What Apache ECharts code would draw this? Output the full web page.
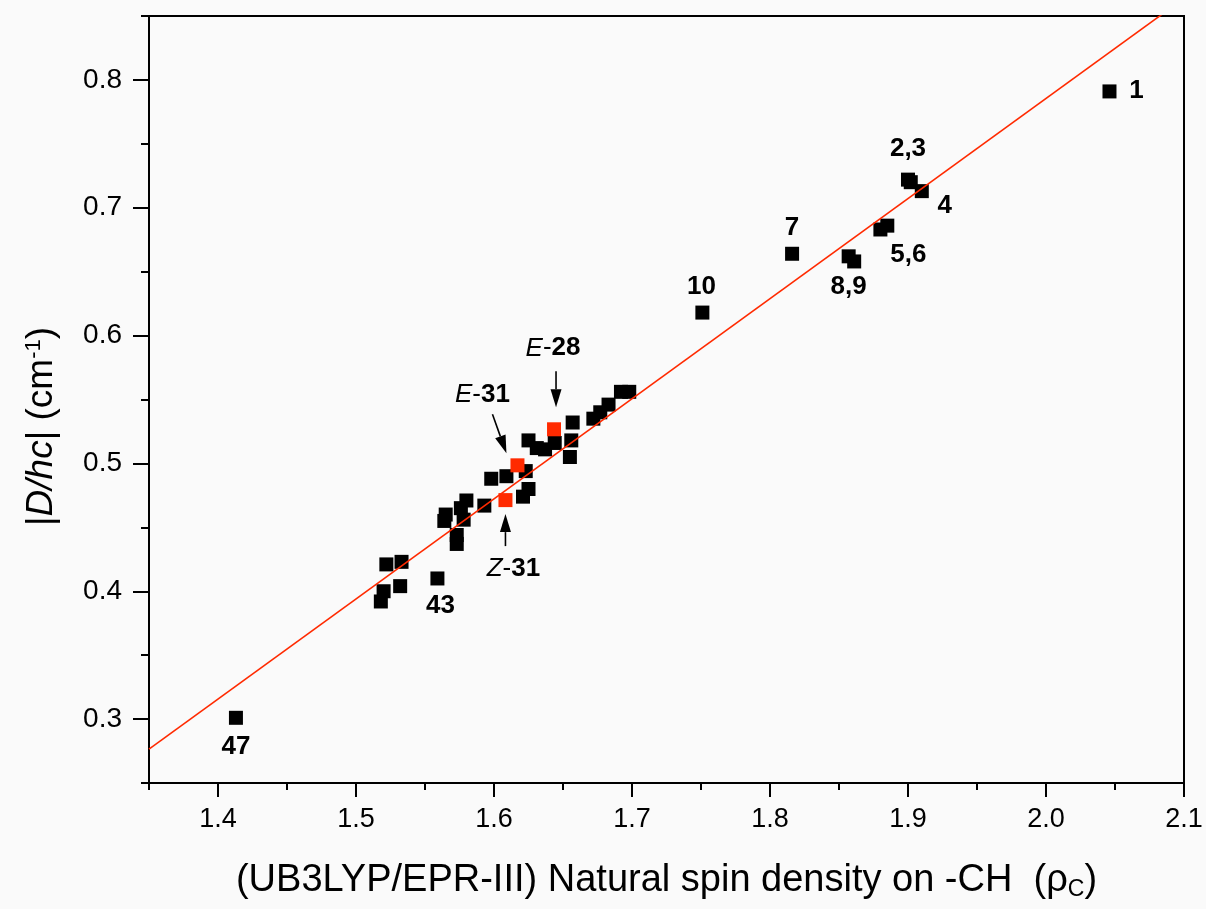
<!DOCTYPE html>
<html>
<head>
<meta charset="utf-8">
<script src="https://cdn.jsdelivr.net/npm/echarts@6/dist/echarts.min.js"></script>
<style>
html,body{margin:0;padding:0;background:#fafafa;}
#chart{width:1206px;height:909px;}
</style>
</head>
<body>
<div id="chart"></div>
<script>
// ---- data ----
const blackX = [2.046, 1.900, 1.902, 1.910, 1.880, 1.885, 1.816, 1.857, 1.861, 1.751,
  1.625, 1.631, 1.637, 1.644, 1.657, 1.656, 1.655, 1.672, 1.677, 1.683, 1.692, 1.698,
  1.609, 1.598, 1.623, 1.625, 1.621, 1.593, 1.580, 1.576, 1.578, 1.565, 1.564, 1.573, 1.573,
  1.522, 1.533, 1.532, 1.520, 1.518, 1.559, 1.413];
const blackY = [0.791, 0.722, 0.720, 0.713, 0.683, 0.686, 0.664, 0.662, 0.658, 0.618,
  0.518, 0.512, 0.511, 0.516, 0.532, 0.518, 0.505, 0.535, 0.540, 0.546, 0.556, 0.556,
  0.490, 0.488, 0.494, 0.480, 0.474, 0.467, 0.471, 0.465, 0.456, 0.460, 0.455, 0.444, 0.437,
  0.421, 0.423, 0.404, 0.400, 0.392, 0.410, 0.301];
const blackLabels = {0: '1', 1: '2,3', 3: '4', 4: '5,6', 6: '7', 7: '8,9', 9: '10', 40: '43', 41: '47'};

const redX = [1.6435, 1.617, 1.6083];
const redY = [0.5267, 0.4985, 0.4713];
const redIsomer = ['E', 'E', 'Z'];
const redNumber = ['28', '31', '31'];

const fitSlope = 0.783;
const fitIntercept = -0.7805;

const xMajorTicks = [1.4, 1.5, 1.6, 1.7, 1.8, 1.9, 2.0, 2.1];
const yMajorTicks = [0.3, 0.4, 0.5, 0.6, 0.7, 0.8];
const xRange = [1.35, 2.1];
const yRange = [0.25, 0.85];

// ---- styles ----
const FONT = 'Liberation Sans, Arial, sans-serif';
const labelOffsets = {0: [27, -1], 1: [0, -31], 3: [23, 15], 4: [28, 25], 6: [0, -26], 7: [0, 31], 9: [-1, -26], 40: [3, 27], 41: [0, 29]};
const redLabelOffsets = [[-1, -81], [-35, -71], [8, 69]];
const arrowDefs = [ // [start offset, tip offset] relative to the red point (pixels)
  [[2, -58], [2, -22]],
  [[-25, -51], [-11, -12]],
  [[0, 46], [0, 14]]
];

const labelText = {fontFamily: FONT, fontSize: 26, fontWeight: 'bold', color: '#000'};

const blackData = blackX.map((x, i) => {
  const item = {value: [x, blackY[i]]};
  if (blackLabels[i] !== undefined) {
    item.label = Object.assign({show: true, position: 'inside', formatter: blackLabels[i], offset: labelOffsets[i], align: 'center', verticalAlign: 'middle'}, labelText);
  }
  return item;
});
const richStyles = {
  i: {fontFamily: FONT, fontSize: 26, fontStyle: 'italic', color: '#000'},
  n: {fontFamily: FONT, fontSize: 26, color: '#000'},
  b: {fontFamily: FONT, fontSize: 26, fontWeight: 'bold', color: '#000'}
};
const redData = redX.map((x, i) => ({
  value: [x, redY[i]],
  label: {show: true, position: 'inside', offset: redLabelOffsets[i], align: 'center', verticalAlign: 'middle',
    formatter: '{i|' + redIsomer[i] + '}{n|-}{b|' + redNumber[i] + '}', rich: richStyles}
}));

const fitData = [[xRange[0], fitSlope * xRange[0] + fitIntercept], [xRange[1], fitSlope * xRange[1] + fitIntercept]];

function fmtTenth(v) {
  const r = Math.round(v * 100);
  if (r % 10 !== 0) return '';
  return (r / 100).toFixed(1);
}

const baseAxis = {
  axisLine: {show: true, onZero: false, lineStyle: {color: '#000', width: 2}},
  splitLine: {show: false}
};

const chart = echarts.init(document.getElementById('chart'), null, {renderer: 'canvas'});
const option = {
  backgroundColor: '#fafafa',
  animation: false,
  grid: {left: 149, right: 22, top: 16, bottom: 126, containLabel: false, show: true, borderColor: '#000', borderWidth: 2, backgroundColor: 'transparent'},
  xAxis: [
    Object.assign({}, baseAxis, {
      type: 'value', min: xRange[0], max: xRange[1], interval: 0.05, position: 'bottom',
      axisTick: {show: true, inside: false, length: 7, lineStyle: {color: '#000', width: 2}},
      axisLabel: {show: true, formatter: fmtTenth, margin: 23, fontFamily: FONT, fontSize: 27, color: '#000'},
      name: '(UB3LYP/EPR-III) Natural spin density on -CH  (ρ{s|C})',
      nameLocation: 'middle', nameGap: 78,
      nameTextStyle: {fontFamily: FONT, fontSize: 38, color: '#000', rich: {s: {fontFamily: FONT, fontSize: 23, color: '#000', verticalAlign: 'bottom', padding: [17, 0, 0, 0]}}}
    }),
    {
      type: 'value', min: xRange[0], max: xRange[1], position: 'bottom', gridIndex: 0,
      axisLine: {show: false}, splitLine: {show: false},
      axisTick: {show: true, inside: false, length: 14, customValues: xMajorTicks, lineStyle: {color: '#000', width: 2}},
      axisLabel: {show: false}
    }
  ],
  yAxis: [
    Object.assign({}, baseAxis, {
      type: 'value', min: yRange[0], max: yRange[1], interval: 0.05, position: 'left',
      axisTick: {show: true, inside: false, length: 8, lineStyle: {color: '#000', width: 2}},
      axisLabel: {show: true, formatter: fmtTenth, margin: 27, fontFamily: FONT, fontSize: 28, color: '#000'},
      name: '|{it|D/hc}| (cm{sup|-1})',
      nameLocation: 'middle', nameGap: 89, nameRotate: 90,
      nameTextStyle: {fontFamily: FONT, fontSize: 37, color: '#000', padding: [0, 54, 0, 0],
        rich: {it: {fontFamily: FONT, fontSize: 37, fontStyle: 'italic', color: '#000'},
               sup: {fontFamily: FONT, fontSize: 22, color: '#000', verticalAlign: 'top', padding: [0, 0, 14, 0]}}}
    }),
    {
      type: 'value', min: yRange[0], max: yRange[1], position: 'left', gridIndex: 0,
      axisLine: {show: false}, splitLine: {show: false},
      axisTick: {show: true, inside: false, length: 16, customValues: yMajorTicks, lineStyle: {color: '#000', width: 2}},
      axisLabel: {show: false}
    }
  ],
  series: [
    {
      name: 'compounds', type: 'scatter', xAxisIndex: 0, yAxisIndex: 0,
      symbol: 'rect', symbolSize: 14, itemStyle: {color: '#000', opacity: 1},
      data: blackData, z: 2
    },
    {
      name: 'isomers', type: 'scatter', xAxisIndex: 0, yAxisIndex: 0,
      symbol: 'rect', symbolSize: 14, itemStyle: {color: '#ff2a00', opacity: 1},
      data: redData, z: 3
    },
    {
      name: 'fit', type: 'line', xAxisIndex: 0, yAxisIndex: 0,
      data: fitData, showSymbol: false, symbol: 'none', clip: true,
      lineStyle: {color: '#ff2a00', width: 1.6}, z: 4
    }
  ]
};
chart.setOption(option);

// arrows to the red points
const graphics = [];
redX.forEach((x, i) => {
  const p = chart.convertToPixel({seriesIndex: 1}, [x, redY[i]]);
  const s = [p[0] + arrowDefs[i][0][0], p[1] + arrowDefs[i][0][1]];
  const t = [p[0] + arrowDefs[i][1][0], p[1] + arrowDefs[i][1][1]];
  const dx = t[0] - s[0], dy = t[1] - s[1];
  const len = Math.sqrt(dx * dx + dy * dy);
  const ux = dx / len, uy = dy / len;
  const headLen = 18, headW = 5.5;
  const b = [t[0] - ux * headLen, t[1] - uy * headLen];
  graphics.push({type: 'line', shape: {x1: s[0], y1: s[1], x2: b[0], y2: b[1]}, style: {stroke: '#000', lineWidth: 1.6}, z: 10});
  graphics.push({type: 'polygon', shape: {points: [t, [b[0] - uy * headW, b[1] + ux * headW], [b[0] + uy * headW, b[1] - ux * headW]]}, style: {fill: '#000'}, z: 10});
});
chart.setOption({graphic: graphics});
</script>
</body>
</html>
